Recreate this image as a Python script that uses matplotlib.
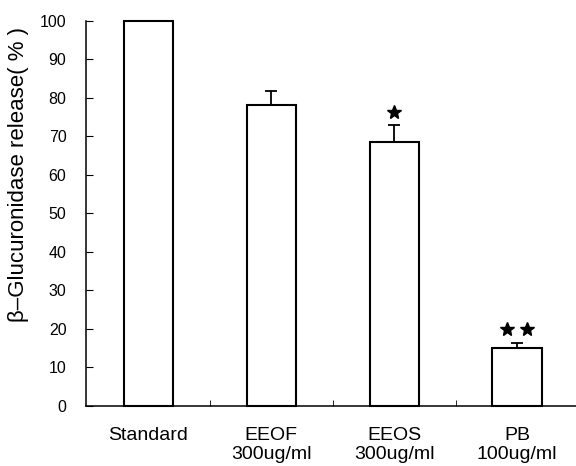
import matplotlib
matplotlib.use('Agg')
import matplotlib.pyplot as plt

# data
groups = ['Standard', 'EEOF\n300ug/ml', 'EEOS\n300ug/ml', 'PB\n100ug/ml']
release = [100, 78, 68.5, 15]
err_up = [0, 3.8, 4.3, 1.4]
stars = [0, 0, 1, 2]   # significance marks above the bars

plt.rcParams['font.family'] = ['Liberation Sans', 'DejaVu Sans']

fig = plt.figure(figsize=(5.76, 4.66), dpi=100)
ax = fig.add_axes([0.149, 0.129, 0.851, 0.827])

x = list(range(len(groups)))
ax.bar(x, release, width=0.4, color='white', edgecolor='black', linewidth=1.5,
       zorder=2, clip_on=False)
ax.errorbar(x[1:], release[1:], yerr=[[0] * 3, err_up[1:]], fmt='none',
            ecolor='black', elinewidth=1.3, capsize=4, capthick=1.3, zorder=3)

# stars
for i, n in enumerate(stars):
    if n == 0:
        continue
    top = release[i] + err_up[i] + 3.5
    offs = [0] if n == 1 else [-0.08, 0.08]
    for o in offs:
        ax.plot(i + o, top, marker='*', color='black', markersize=10, zorder=4)

ax.set_xlim(-0.51, 3.48)
ax.set_ylim(0, 100)
ax.set_yticks(range(0, 101, 10))
ax.set_xticks(x)
ax.set_xticklabels(groups, fontsize=14, linespacing=1.2)
ax.set_xticks([0.5, 1.5, 2.5], minor=True)
ax.tick_params(axis='x', which='major', length=0, pad=15)
ax.tick_params(axis='x', which='minor', direction='in', length=4)
ax.tick_params(axis='y', direction='in', length=5, labelsize=11.5, pad=14)
ax.set_ylabel('β–Glucuronidase release( % )', fontsize=16)
ax.yaxis.set_label_coords(-0.115, 0.6)

for s in ['top', 'right']:
    ax.spines[s].set_visible(False)
ax.spines['left'].set_linewidth(1.1)
ax.spines['bottom'].set_linewidth(1.1)

plt.savefig('out.png', dpi=100)
